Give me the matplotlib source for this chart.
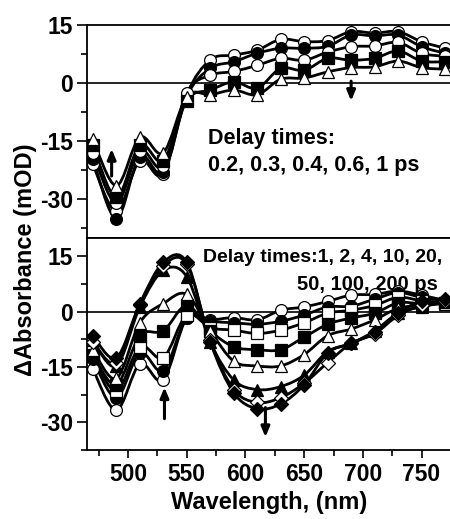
import numpy as np
import matplotlib
matplotlib.use("Agg")
import matplotlib.pyplot as plt
from matplotlib.path import Path
from matplotlib.patches import PathPatch

plt.rcParams['font.family'] = ['Liberation Sans', 'DejaVu Sans']
plt.rcParams['font.weight'] = 'bold'
plt.rcParams['axes.unicode_minus'] = False

wavelength = [470, 490, 510, 530, 550, 570, 590, 610, 630, 650, 670, 690, 710, 730, 750, 770]

# Top panel: early delay times
top_labels = ["0.2 ps", "0.3 ps", "0.4 ps", "0.6 ps", "1 ps"]
top_a = [-21, -33, -20, -23.5, -3, 6, 7.2, 8.5, 11.3, 10.7, 11, 13.3, 12.9, 13.3, 10.7, 9]
top_b = [-19.5, -35, -19, -23, -3.5, 3.8, 5.5, 7.7, 9.0, 9.0, 9.5, 12.4, 12.2, 12.4, 9.4, 7.7]
top_c = [-18, -31, -17.5, -21.5, -2.5, 2, 3, 4.6, 6.4, 5.9, 8.0, 9.4, 9.6, 10.5, 7.7, 6.9]
top_d = [-16, -29.5, -16, -20, -4.5, -1.8, 0.3, -1.3, 3.8, 3.3, 6.4, 5.9, 6.4, 8.3, 5.7, 5.5]
top_e = [-14.5, -26.5, -14, -18, -3.5, -3, -1.8, -3, 1, 1.3, 2.9, 4.0, 4.2, 5.7, 4.0, 3.6]
top_series = [top_a, top_b, top_c, top_d, top_e]
top_markers = [('o', 'white'), ('o', 'black'), ('o', 'white'), ('s', 'black'), ('^', 'white')]

# Bottom panel: later delay times
bot_labels = ["1 ps", "2 ps", "4 ps", "10 ps", "20 ps", "50 ps", "100 ps", "200 ps"]
bot_1 = [-15.5, -26.7, -14.2, -18.5, -1.7, -2.2, -1.6, -2.2, 0.4, 1.3, 2.8, 4.5, 4.7, 5.6, 4.5, 3.0]
bot_2 = [-12.9, -23.3, -11.2, -16, -1.7, -2.6, -3.0, -3.4, -2.6, -0.9, 1.3, 1.5, 3.4, 5.2, 3.9, 3.0]
bot_4 = [-12, -21.5, -9.5, -12.5, -0.9, -4.3, -5.0, -5.9, -5.0, -3.0, -0.4, 0.4, 1.7, 3.9, 3.0, 2.4]
bot_10 = [-11.6, -19.8, -6.5, -5.2, 1.7, -5.2, -9.5, -10.3, -10.3, -6.9, -3.4, -1.7, -0.4, 2.4, 2.2, 2.4]
bot_20 = [-10.3, -18.1, -3, 2.2, 4.7, -5.2, -13.4, -14.7, -14.7, -11.6, -6.5, -4.7, -2.2, 0.9, 1.7, 2.2]
bot_50 = [-7.8, -14.7, 1.3, 11.2, 9.5, -8.2, -18.5, -21.1, -20.3, -17.2, -10.8, -8.6, -5.2, -0.4, 1.3, 2.6]
bot_100 = [-8.2, -13.8, 1.7, 12.5, 12.9, -7.8, -21.1, -24.6, -23.3, -19.4, -13.8, -8.6, -6.0, -1.0, 1.7, 2.8]
bot_200 = [-6.5, -12.5, 2.2, 13.4, 13.4, -8.2, -22, -26.3, -25, -19.8, -11.2, -8.6, -5.6, -0.4, 3.0, 3.4]
bot_series = [bot_1, bot_2, bot_4, bot_10, bot_20, bot_50, bot_100, bot_200]
bot_markers = [('o', 'white'), ('o', 'black'), ('s', 'white'), ('s', 'black'),
               ('^', 'white'), ('^', 'black'), ('D', 'white'), ('D', 'black')]

yticks = [-30, -15, 0, 15]
xticks = [500, 550, 600, 650, 700, 750]


def smooth_path(x, y):
    x = np.asarray(x, float)
    y = np.asarray(y, float)
    pts = np.column_stack([x, y])
    n = len(pts)
    verts = [pts[0]]
    codes = [Path.MOVETO]
    for i in range(n - 1):
        p0 = pts[i - 1] if i > 0 else pts[i]
        p1 = pts[i]
        p2 = pts[i + 1]
        p3 = pts[i + 2] if i + 2 < n else pts[i + 1]
        c1 = p1 + (p2 - p0) / 6.0
        c2 = p2 - (p3 - p1) / 6.0
        verts += [c1, c2, p2]
        codes += [Path.CURVE4] * 3
    return Path(verts, codes)


def draw(ax, series, markers):
    for ys in series:
        ax.add_patch(PathPatch(smooth_path(wavelength, ys), fill=False,
                               edgecolor='black', lw=2.0, zorder=3))
    for ys, (m, fc) in zip(series, markers):
        ms = 8.5 if m != 'D' else 7.5
        ax.plot(wavelength, ys, linestyle='none', marker=m, markersize=ms,
                markerfacecolor=fc, markeredgecolor='black', markeredgewidth=0.9,
                zorder=4)


fig = plt.figure(figsize=(4.5, 5.19), dpi=100)
ax1 = fig.add_axes([0.1933, 0.5415, 0.8087, 0.4103])
ax2 = fig.add_axes([0.1933, 0.1329, 0.8087, 0.4086])

for ax, ylim in ((ax1, (-40, 15)), (ax2, (-35, 20))):
    ax.set_xlim(465, 775)
    ax.set_ylim(*ylim)
    ax.axhline(0, color='black', lw=1.2, zorder=2)
    ax.set_yticks(yticks)
    ax.set_yticks([-37.5, -22.5, -7.5, 7.5], minor=True)
    ax.set_xticks(xticks)
    ax.set_xticks([475, 525, 575, 625, 675, 725, 775], minor=True)
    ax.tick_params(axis='both', which='major', direction='out', length=6, width=1.2,
                   labelsize=16.5, pad=3)
    ax.tick_params(axis='both', which='minor', direction='out', length=4.5, width=1.2)
    ax.tick_params(axis='y', which='major', length=7)
    for s in ax.spines.values():
        s.set_linewidth(1.3)
    ax.spines['right'].set_visible(False)
    for lab in ax.get_xticklabels() + ax.get_yticklabels():
        lab.set_fontweight('bold')

ax1.tick_params(axis='x', labelbottom=False)

draw(ax1, top_series, top_markers)
draw(ax2, bot_series, bot_markers)

ax2.set_xlabel("Wavelength, (nm)", fontsize=17, fontweight='bold', labelpad=4)
fig.text(0.056, 0.50, "ΔAbsorbance (mOD)", rotation=90, fontsize=17,
         fontweight='bold', ha='center', va='center')

ax1.text(0.333, 0.465, "Delay times:", transform=ax1.transAxes, fontsize=15.5,
         fontweight='bold', ha='left', va='center')
ax1.text(0.333, 0.34, "0.2, 0.3, 0.4, 0.6, 1 ps", transform=ax1.transAxes,
         fontsize=15.5, fontweight='bold', ha='left', va='center')
ax2.text(0.975, 0.91, "Delay times:1, 2, 4, 10, 20,", transform=ax2.transAxes,
         fontsize=14, fontweight='bold', ha='right', va='center')
ax2.text(0.965, 0.78, "50, 100, 200 ps", transform=ax2.transAxes,
         fontsize=14.5, fontweight='bold', ha='right', va='center')

arrow = dict(arrowstyle='-|>,head_width=0.25,head_length=0.6', lw=2.2, color='black',
             shrinkA=0, shrinkB=0)
ax1.annotate("", xy=(486, -17), xytext=(486, -24), arrowprops=arrow, zorder=5)
ax1.annotate("", xy=(690, -4.6), xytext=(690, 0.5), arrowprops=arrow, zorder=5)
ax2.annotate("", xy=(531, -20.5), xytext=(531, -29), arrowprops=arrow, zorder=5)
ax2.annotate("", xy=(617, -34), xytext=(617, -26), arrowprops=arrow, zorder=5)

fig.savefig("out.png", dpi=100)
